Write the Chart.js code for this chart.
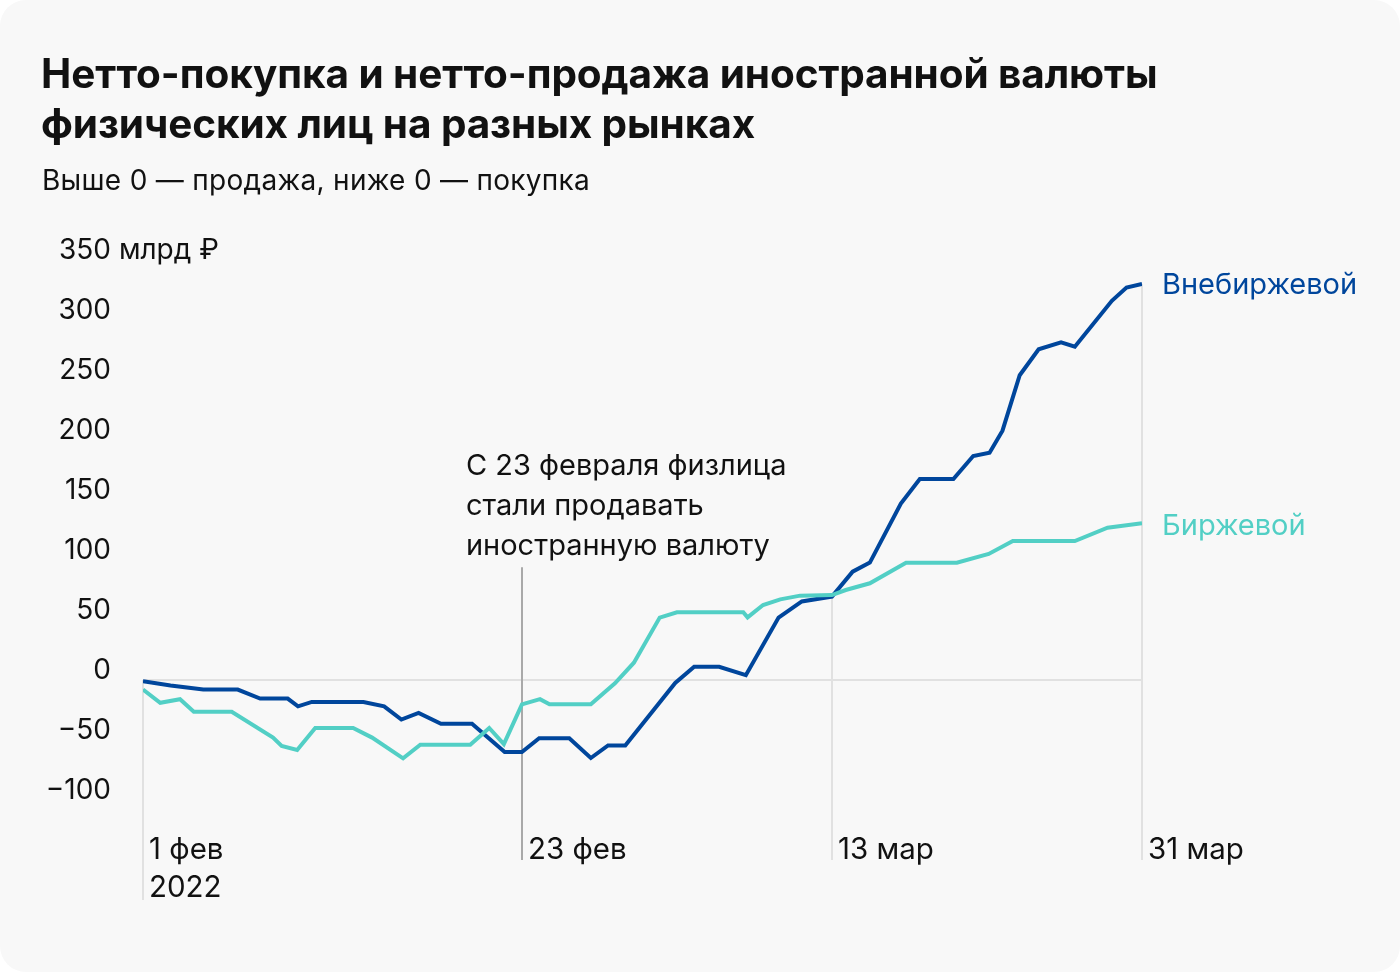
<!DOCTYPE html>
<html lang="ru">
<head>
<meta charset="utf-8">
<script src="https://cdn.jsdelivr.net/npm/chart.js@4.4.1/dist/chart.umd.min.js"></script>
<style>
  html, body { margin: 0; padding: 0; background: #ffffff; }
  #card { position: relative; width: 1400px; height: 972px; background: #f8f8f8; border-radius: 26px; overflow: hidden; }
  #title { position: absolute; left: 41px; top: 49px; margin: 0; font: 700 40.5px/50px Inter, "DejaVu Sans", sans-serif; color: #111; letter-spacing: -0.1px; }
  #subtitle { position: absolute; left: 42px; top: 162px; margin: 0; font: 400 28px/36px Inter, "DejaVu Sans", sans-serif; color: #111; letter-spacing: 0.3px; }
  #wrap { position: absolute; left: 0; top: 0; width: 1400px; height: 972px; }
</style>
</head>
<body>
<div id="card">
  <div id="wrap"><canvas id="c" width="1400" height="972"></canvas></div>
  <h1 id="title">Нетто-покупка и нетто-продажа иностранной валюты<br>физических лиц на разных рынках</h1>
  <p id="subtitle">Выше 0 — продажа, ниже 0 — покупка</p>
</div>
<script>
// ---- Data (day offset from 1 Feb 2022, value in bn RUB) ----
const otcDays   = [0, 1.6, 3.5, 5.5, 6.8, 8.4, 9, 9.8, 12.8, 14, 15, 16, 17.3, 19.1, 21, 22, 23, 24.75, 26, 27, 28, 30.9, 32, 33.45, 35, 36.9, 38.25, 40, 41.2, 42.2, 44, 45.1, 47.05, 48.2, 49.15, 49.9, 50.9, 52, 53.3, 54.1, 56.25, 57.1, 58];
const otcValues = [-1, -4.5, -8, -8, -15.5, -15.5, -22, -18.3, -18.3, -22, -33, -27.5, -36.5, -36.5, -60, -60, -48.5, -48.5, -65, -54.5, -54.5, -2.5, 11, 11, 4, 52, 65.5, 69.5, 90.3, 97.8, 147, 167.5, 167.5, 186.7, 189.4, 207.8, 254, 275.6, 281.4, 277.8, 316, 327, 330];
const exDays    = [0, 1, 2.15, 2.95, 5.15, 7.55, 8.05, 8.95, 10, 12.2, 13.3, 15.1, 16.1, 19, 20.1, 20.95, 22, 23.05, 23.6, 26, 27.4, 28.5, 30, 31, 34.85, 35.1, 36, 37, 38.15, 40, 40.8, 42.2, 44.3, 47.25, 49.1, 50.5, 54.1, 56, 58];
const exValues  = [-8, -19, -16, -26.5, -26.5, -48, -55, -58.3, -40, -40, -48, -65.3, -54, -54, -40, -53.5, -20.3, -16, -20.3, -20.3, -2.8, 14.4, 52, 56.4, 56.4, 52.2, 62.5, 67.2, 70.3, 70.8, 75, 80.6, 97.8, 97.8, 105, 115.8, 115.8, 126.9, 130.6];

const seriesNames = ['Внебиржевой', 'Биржевой'];
const yTicks = [-100, -50, 0, 50, 100, 150, 200, 250, 300, 350];
const yUnit = ' млрд ₽';
const xTickDays = [0, 22, 40, 58];
const xTickLabels = [['1 фев', '2022'], ['23 фев'], ['13 мар'], ['31 мар']];
const annotationDay = 22;
const annotationTopValue = 94;
const annotationLines = ['С 23 февраля физлица', 'стали продавать', 'иностранную валюту'];

const BLUE = '#00469c';
const TEAL = '#52cfc5';
const FONT = 'Inter, "DejaVu Sans", sans-serif';
const TEXT = '#111111';

const toPts = (xs, ys) => xs.map((x, i) => ({ x: x, y: ys[i] }));

function valueAt(days, vals, d) {
  for (let i = 0; i < days.length - 1; i++) {
    if (d >= days[i] && d <= days[i + 1]) {
      const t = (d - days[i]) / (days[i + 1] - days[i]);
      return vals[i] + t * (vals[i + 1] - vals[i]);
    }
  }
  return d <= days[0] ? vals[0] : vals[vals.length - 1];
}

const decor = {
  id: 'decor',
  beforeDatasetsDraw(chart) {
    const { ctx, chartArea: a, scales: { x, y } } = chart;
    ctx.save();
    ctx.strokeStyle = '#e1e1e1';
    ctx.lineWidth = 2;
    ctx.beginPath();
    ctx.moveTo(a.left, y.getPixelForValue(0));
    ctx.lineTo(a.right, y.getPixelForValue(0));
    ctx.stroke();
    xTickDays.forEach((d, i) => {
      if (d === annotationDay) return;
      const top = Math.max(0, valueAt(otcDays, otcValues, d), valueAt(exDays, exValues, d));
      const px = Math.round(x.getPixelForValue(d));
      const bottom = a.bottom + (xTickLabels[i].length > 1 ? 100 : 60);
      ctx.strokeStyle = '#e1e1e1';
      ctx.lineWidth = 2;
      ctx.beginPath();
      ctx.moveTo(px, y.getPixelForValue(top));
      ctx.lineTo(px, bottom);
      ctx.stroke();
    });
    const ax = Math.round(x.getPixelForValue(annotationDay));
    ctx.strokeStyle = '#a9a9a9';
    ctx.lineWidth = 2;
    ctx.beginPath();
    ctx.moveTo(ax, y.getPixelForValue(annotationTopValue));
    ctx.lineTo(ax, a.bottom + 60);
    ctx.stroke();
    ctx.restore();
  },
  afterDatasetsDraw(chart) {
    const { ctx, chartArea: a, scales: { x, y } } = chart;
    ctx.save();
    ctx.fillStyle = TEXT;
    ctx.font = '400 28px ' + FONT;
    ctx.textBaseline = 'middle';
    const yRight = a.left - 32;
    yTicks.forEach(v => {
      const py = y.getPixelForValue(v) - 9;
      const label = v < 0 ? '\u2212' + Math.abs(v) : String(v);
      ctx.textAlign = 'right';
      ctx.fillText(label, yRight, py);
      if (v === yTicks[yTicks.length - 1]) {
        ctx.textAlign = 'left';
        ctx.fillText(yUnit, yRight, py);
      }
    });
    ctx.textAlign = 'left';
    ctx.font = '400 29.5px ' + FONT;
    xTickDays.forEach((d, i) => {
      const px = x.getPixelForValue(d) + 6;
      xTickLabels[i].forEach((t, j) => {
        ctx.fillText(t, px, a.bottom + 50 + j * 38);
      });
    });
    ctx.font = '400 29px ' + FONT;
    const annX = x.getPixelForValue(annotationDay) - 56;
    const annY = y.getPixelForValue(annotationTopValue) - 101;
    annotationLines.forEach((t, j) => ctx.fillText(t, annX, annY + j * 40));
    const lastX = x.getPixelForValue(58) + 20;
    ctx.fillStyle = BLUE;
    ctx.fillText(seriesNames[0], lastX, y.getPixelForValue(otcValues[otcValues.length - 1]) + 1);
    ctx.fillStyle = TEAL;
    ctx.fillText(seriesNames[1], lastX, y.getPixelForValue(exValues[exValues.length - 1]) + 3);
    ctx.restore();
  }
};

new Chart(document.getElementById('c'), {
  type: 'line',
  data: {
    datasets: [
      { label: seriesNames[1], data: toPts(exDays, exValues), borderColor: TEAL, borderWidth: 4, pointRadius: 0, tension: 0, fill: false, borderJoinStyle: 'miter' },
      { label: seriesNames[0], data: toPts(otcDays, otcValues), borderColor: BLUE, borderWidth: 4, pointRadius: 0, tension: 0, fill: false, borderJoinStyle: 'miter' }
    ]
  },
  options: {
    responsive: false,
    animation: false,
    events: [],
    layout: { padding: { left: 143, right: 258, top: 260, bottom: 172 } },
    plugins: { legend: { display: false }, tooltip: { enabled: false } },
    scales: {
      x: { type: 'linear', min: 0, max: 58, display: false },
      y: { type: 'linear', min: -100, max: 350, display: false }
    }
  },
  plugins: [decor]
});
</script>
</body>
</html>
